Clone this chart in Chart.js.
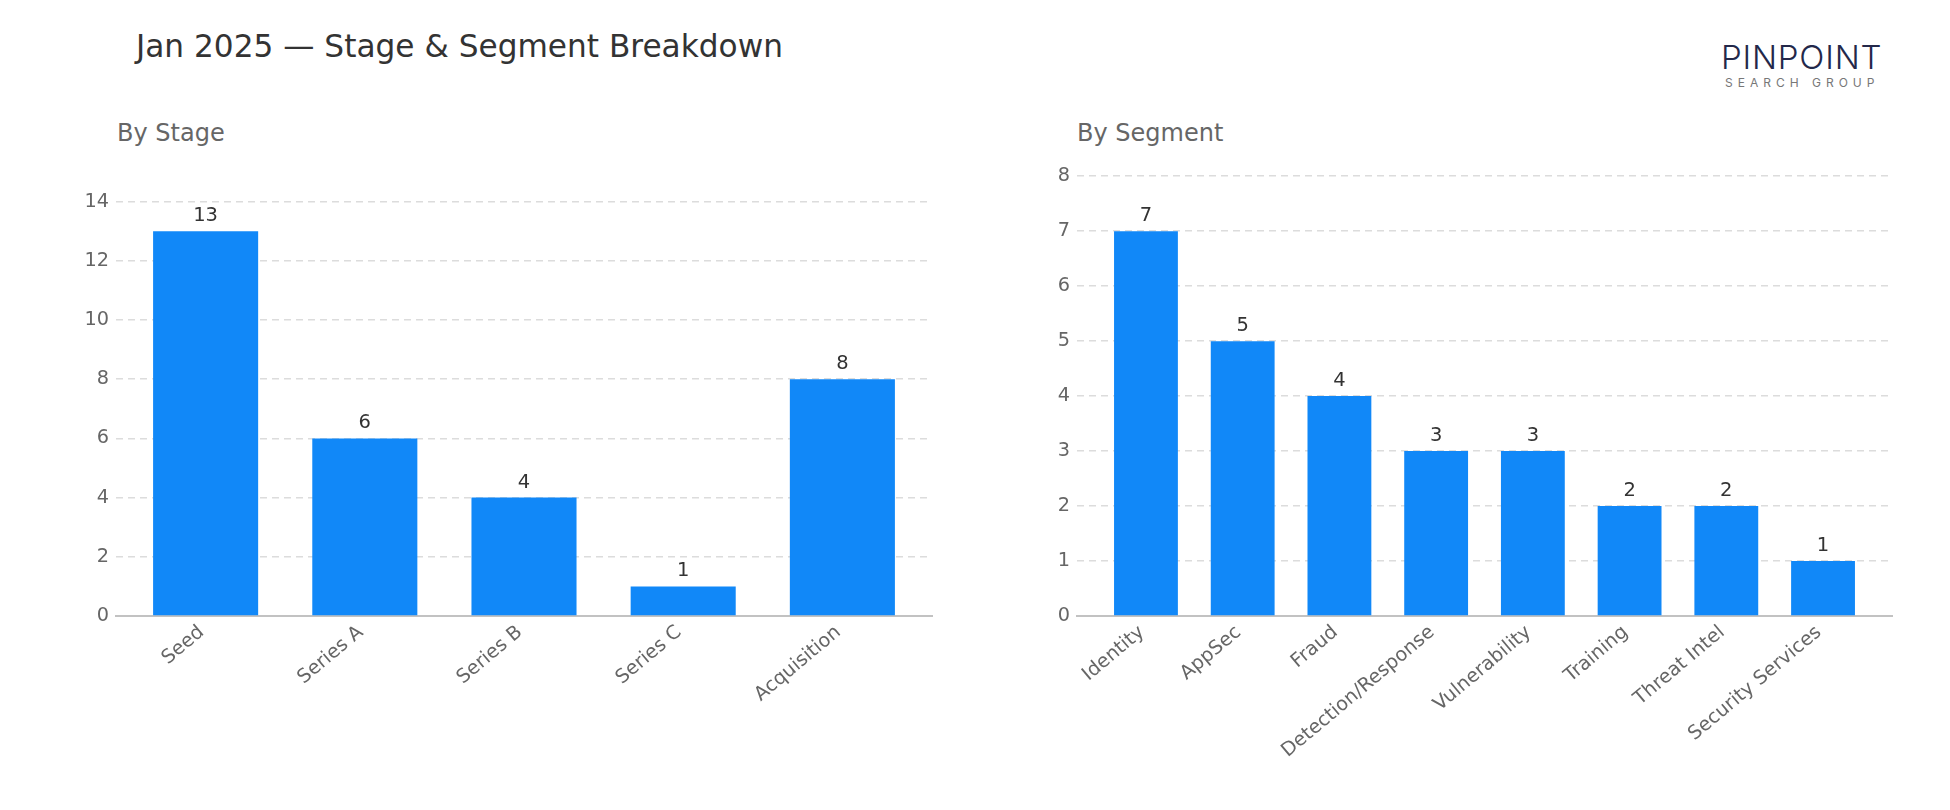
<!DOCTYPE html>
<html>
<head>
<meta charset="utf-8">
<script src="https://cdn.jsdelivr.net/npm/chart.js@4.4.1/dist/chart.umd.min.js"></script>
<style>
  body { margin: 0; width: 1950px; height: 810px; background: #fff; position: relative; overflow: hidden; font-family: "DejaVu Sans", sans-serif; }
  .txt { position: absolute; white-space: nowrap; line-height: 1; }
  #title { left: 136px; top: 31px; font-size: 31.2px; color: #333; }
  .sub { top: 121px; font-size: 24px; color: #666; }
  .box { position: absolute; top: 150px; width: 920px; height: 660px; }
  #logo1 { left: 1721px; top: 41px; font-family: Inter, sans-serif; font-size: 33px; font-weight: 300; letter-spacing: 0.8px; color: #23284a; }
  #logo2 { left: 1725px; top: 76.5px; font-family: Inter, sans-serif; font-size: 12px; letter-spacing: 5px; color: #777; }
</style>
</head>
<body>
<div id="title" class="txt">Jan 2025 — Stage &amp; Segment Breakdown</div>
<div class="txt sub" style="left:117px">By Stage</div>
<div class="txt sub" style="left:1077px">By Segment</div>
<div id="logo1" class="txt">PINPOINT</div>
<div id="logo2" class="txt">SEARCH GROUP</div>
<div class="box" style="left:40px"><canvas id="stage"></canvas></div>
<div class="box" style="left:1000px"><canvas id="segment"></canvas></div>
<script>
// data
const stageLabels = ['Seed', 'Series A', 'Series B', 'Series C', 'Acquisition'];
const stageCounts = [13, 6, 4, 1, 8];
const stageTicks = [0, 2, 4, 6, 8, 10, 12, 14];

const segmentLabels = ['Identity', 'AppSec', 'Fraud', 'Detection/Response', 'Vulnerability', 'Training', 'Threat Intel', 'Security Services'];
const segmentCounts = [7, 5, 4, 3, 3, 2, 2, 1];
const segmentTicks = [0, 1, 2, 3, 4, 5, 6, 7, 8];

Chart.defaults.font.family = '"DejaVu Sans", sans-serif';

const barWidth = 0.66;
const tickFont = { size: 19.3 };

// numbers above each bar
const valueLabels = {
  id: 'valueLabels',
  afterDatasetsDraw(chart) {
    const ctx = chart.ctx;
    const meta = chart.getDatasetMeta(0);
    ctx.save();
    ctx.font = '19.5px "DejaVu Sans"';
    ctx.fillStyle = '#333';
    ctx.textAlign = 'center';
    ctx.textBaseline = 'alphabetic';
    meta.data.forEach((bar, i) => {
      ctx.fillText(chart.data.datasets[0].data[i].y, bar.x, bar.y - 10);
    });
    ctx.restore();
  }
};

function makeChart(id, labels, counts, ticks, padLeft) {
  const n = labels.length;
  const margin = 0.05 * (n - 1 + barWidth);
  const ctx = document.getElementById(id).getContext('2d');
  return new Chart(ctx, {
    type: 'bar',
    data: {
      datasets: [{
        data: counts.map((v, i) => ({ x: i, y: v })),
        backgroundColor: '#1188f8',
        categoryPercentage: 1,
        barPercentage: barWidth
      }]
    },
    options: {
      responsive: true,
      maintainAspectRatio: false,
      animation: false,
      layout: { padding: { left: padLeft, right: 28, top: 23.5, bottom: 14 } },
      plugins: { legend: { display: false }, tooltip: { enabled: false } },
      scales: {
        x: {
          type: 'linear',
          offset: false,
          min: -barWidth / 2 - margin,
          max: n - 1 + barWidth / 2 + margin,
          grid: { display: false },
          border: { color: '#c2c2c2', width: 2 },
          ticks: {
            autoSkip: false, maxRotation: 40, minRotation: 40, padding: -3, labelOffset: -4,
            color: '#666', font: tickFont,
            callback: v => labels[v] ?? ''
          },
          afterBuildTicks: s => { s.ticks = labels.map((_, i) => ({ value: i })); },
          afterFit: s => { s.height = 180; }
        },
        y: {
          min: 0,
          max: Math.max(...counts) * 1.15,
          grid: { color: '#dcdcdc', lineWidth: 1.5, drawTicks: false },
          border: { display: false, dash: [7, 5] },
          ticks: { padding: 7, color: '#666', font: tickFont },
          afterBuildTicks: s => { s.ticks = ticks.map(v => ({ value: v })); },
          afterFit: s => { s.width = 60; }
        }
      }
    },
    plugins: [valueLabels]
  });
}

makeChart('stage', stageLabels, stageCounts, stageTicks, 16);
makeChart('segment', segmentLabels, segmentCounts, segmentTicks, 17);
</script>
</body>
</html>
